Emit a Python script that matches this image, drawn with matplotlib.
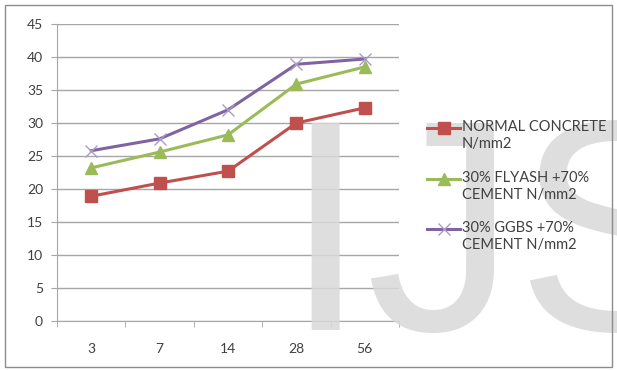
import numpy as np
import matplotlib
matplotlib.use('Agg')
import matplotlib.pyplot as plt
from matplotlib.patches import Rectangle
from matplotlib.lines import Line2D

plt.rcParams['font.family'] = ['Lato', 'DejaVu Sans']

# data
days = ['3', '7', '14', '28', '56']
normal = [18.9, 20.9, 22.7, 30.0, 32.3]
flyash = [23.2, 25.6, 28.2, 35.9, 38.5]
ggbs = [25.8, 27.6, 32.0, 38.9, 39.7]
labels = ['NORMAL CONCRETE\nN/mm2',
          '30% FLYASH +70%\nCEMENT N/mm2',
          '30% GGBS +70%\nCEMENT N/mm2']

RED = '#c0504d'; GREEN = '#9bbb59'; PURPLE = '#8064a2'
GRID = '#a6a6a6'; TXT = '#404040'
W, H = 617, 370

fig = plt.figure(figsize=(W/100, H/100), dpi=100)
ax = fig.add_axes([57/W, 1 - 321/H, (399 - 57)/W, (321 - 24)/H])

styles = [
    dict(color=RED, marker='s', ms=8.5, mec=RED, mfc=RED),
    dict(color=GREEN, marker='^', ms=9, mec=GREEN, mfc=GREEN),
    dict(color=PURPLE, marker='x', ms=8, mew=1, mec='#a99dc4'),
]

x = np.arange(len(days))
for vals, st in zip([normal, flyash, ggbs], styles):
    ax.plot(x, vals, lw=2.2, zorder=4, **st)

ax.set_xlim(-0.5, len(days) - 0.5)
ax.set_ylim(0, 45)
ax.set_yticks(np.arange(0, 46, 5))
ax.set_xticks(x)
ax.set_xticklabels(days)
ax.set_xticks(np.arange(-0.5, len(days)), minor=True)
ax.tick_params(axis='x', which='major', length=0, pad=16,
               labelsize=10, labelcolor=TXT)
ax.tick_params(axis='x', which='minor', length=4, color=GRID, direction='out')
ax.tick_params(axis='y', length=4, color=GRID, labelsize=10,
               labelcolor=TXT, pad=6)
ax.grid(axis='y', color=GRID, lw=1)
ax.set_axisbelow(True)
for s in ['top', 'right']:
    ax.spines[s].set_visible(False)
for s in ['left', 'bottom']:
    ax.spines[s].set_color(GRID)

# legend, Excel style: marker aligned with the first text line
for i, (lab, st) in enumerate(zip(labels, styles)):
    yy = 1 - (128 + i * 50.5) / H
    fig.add_artist(Line2D([427/W, 460/W], [yy, yy], lw=2.2,
                          color=st['color']))
    mk = {k: v for k, v in st.items() if k != 'color'}
    fig.add_artist(Line2D([443.5/W], [yy], ls='none', **mk))
    fig.text(462/W, yy + 8/H, lab, fontsize=10.5, color=TXT,
             ha='left', va='top', linespacing=1.3)

# watermark
fig.text(283/W, 1 - 330/H, 'IJS', fontsize=216, color='#d9d9d9',
         family='Liberation Sans', ha='left', va='baseline',
         zorder=0.5, alpha=0.85)

# outer frame
fig.patches.append(Rectangle((5/W, 3/H), 607/W, 362/H,
                             transform=fig.transFigure, fill=False,
                             ec='#8c8c8c', lw=1))

fig.savefig('out.png', dpi=100)
